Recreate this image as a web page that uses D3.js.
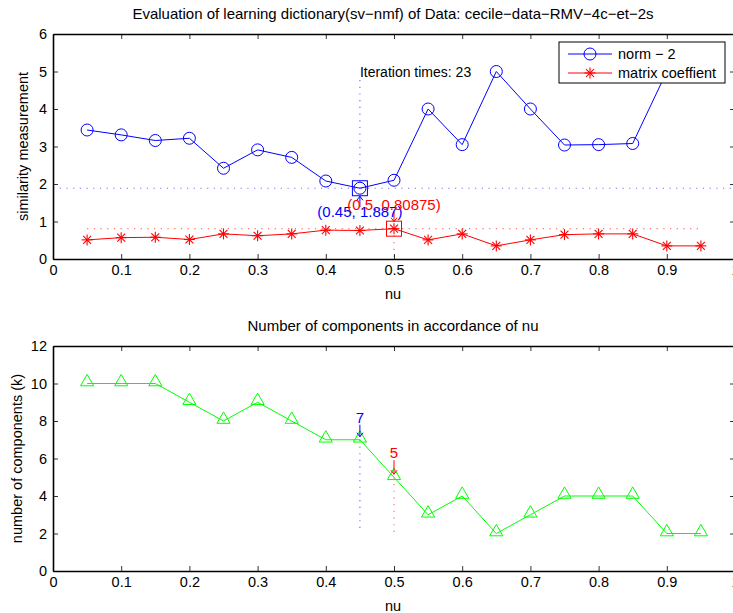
<!DOCTYPE html>
<html>
<head>
<meta charset="utf-8">
<script src="https://cdn.jsdelivr.net/npm/d3@7"></script>
<style>
  html, body { margin: 0; padding: 0; background: #fff; }
  svg { display: block; font-family: "Liberation Sans", Arial, Helvetica, sans-serif; }
</style>
</head>
<body>
<svg id="chart" width="733" height="613"></svg>
<script>
// ---------- data ----------
const nu = [0.05, 0.10, 0.15, 0.20, 0.25, 0.30, 0.35, 0.40, 0.45, 0.50,
            0.55, 0.60, 0.65, 0.70, 0.75, 0.80, 0.85, 0.90, 0.95];
const norm2 = [3.44, 3.31, 3.16, 3.22, 2.42, 2.91, 2.71, 2.08, 1.887, 2.10,
               4.00, 3.05, 5.00, 4.00, 3.04, 3.05, 3.08, 5.00, 5.00];
const matrixCoef = [0.51, 0.57, 0.58, 0.52, 0.67, 0.62, 0.67, 0.77, 0.76, 0.80875,
                    0.51, 0.67, 0.35, 0.51, 0.65, 0.67, 0.67, 0.35, 0.35];
const components = [10, 10, 10, 9, 8, 9, 8, 7, 7, 5, 3, 4, 2, 3, 4, 4, 4, 2, 2];

const xTicks = [0, 0.1, 0.2, 0.3, 0.4, 0.5, 0.6, 0.7, 0.8, 0.9, 1];
const xTickLabels = ["0", "0.1", "0.2", "0.3", "0.4", "0.5", "0.6", "0.7", "0.8", "0.9", "1"];
const yTicksTop = [0, 1, 2, 3, 4, 5, 6];
const yTicksBottom = [0, 2, 4, 6, 8, 10, 12];

const titleTop = "Evaluation of learning dictionary(sv\u2212nmf) of Data: cecile\u2212data\u2212RMV\u22124c\u2212et\u22122s";
const titleBottom = "Number of components in accordance of nu";
const legendLabels = ["norm \u2212 2", "matrix coeffient"];

const bestNorm = { x: 0.45, y: 1.887, label: "(0.45, 1.887)" };
const bestCoef = { x: 0.5, y: 0.80875, label: "(0.5, 0.80875)" };
const iterText = "Iteration times: 23";
const compNorm = { x: 0.45, k: 7 };
const compCoef = { x: 0.5, k: 5 };

// ---------- setup ----------
const svg = d3.select("#chart");
const BLUE = "#0000ff", RED = "#ff0000", GREEN = "#00ff00";
const L = 53, R = 735;

const x = d3.scaleLinear().domain([0, 1]).range([L, R]);
const yTop = d3.scaleLinear().domain([0, 6]).range([259, 34]);
const yBot = d3.scaleLinear().domain([0, 12]).range([571, 346]);

function drawAxes(g, y, yTicks, title, ylabel) {
  const [y0, y1] = y.range();
  const gb = g.append("g").attr("transform", `translate(0,${y0})`)
    .call(d3.axisBottom(x).tickValues(xTicks).tickFormat(d => xTickLabels[xTicks.indexOf(d)])
      .tickSizeInner(-5).tickSizeOuter(0).tickPadding(6));
  const gt = g.append("g").attr("transform", `translate(0,${y1})`)
    .call(d3.axisTop(x).tickValues(xTicks).tickFormat("").tickSizeInner(-5).tickSizeOuter(0));
  const gl = g.append("g").attr("transform", `translate(${L},0)`)
    .call(d3.axisLeft(y).tickValues(yTicks).tickFormat(d3.format("d"))
      .tickSizeInner(-5).tickSizeOuter(0).tickPadding(6));
  const gr = g.append("g").attr("transform", `translate(${R},0)`)
    .call(d3.axisRight(y).tickValues(yTicks).tickFormat("").tickSizeInner(-5).tickSizeOuter(0));
  [gb, gt, gl, gr].forEach(a => {
    a.select(".domain").attr("stroke", "#000").attr("stroke-width", 1.6);
    a.selectAll(".tick line").attr("stroke", "#000").attr("stroke-width", 0.8);
    a.selectAll("text").attr("fill", "#000").attr("font-size", 14.5)
      .attr("font-family", "Liberation Sans, Arial, sans-serif");
  });
  g.append("text").attr("x", (L + R) / 2 - 1).attr("y", y1 - 15)
    .attr("text-anchor", "middle").attr("font-size", 15).attr("fill", "#000").text(title);
  g.append("text").attr("x", (L + R) / 2 - 1).attr("y", y0 + 40)
    .attr("text-anchor", "middle").attr("font-size", 14.5).attr("fill", "#000").text("nu");
  g.append("text").attr("transform", `translate(${ylabel.x},${(y0 + y1) / 2}) rotate(-90)`)
    .attr("text-anchor", "middle").attr("font-size", 14.5).attr("fill", "#000").text(ylabel.text);
}

function asterisk(g, cx, cy, color, r = 5.5) {
  const p = g.append("g").attr("stroke", color).attr("stroke-width", 1.1).attr("fill", "none");
  p.append("line").attr("x1", cx - r).attr("y1", cy).attr("x2", cx + r).attr("y2", cy);
  p.append("line").attr("x1", cx).attr("y1", cy - r).attr("x2", cx).attr("y2", cy + r);
  const d = r * 0.72;
  p.append("line").attr("x1", cx - d).attr("y1", cy - d).attr("x2", cx + d).attr("y2", cy + d);
  p.append("line").attr("x1", cx - d).attr("y1", cy + d).attr("x2", cx + d).attr("y2", cy - d);
}

function arrow(g, xp, yFrom, yTo, color) {
  g.append("line").attr("x1", xp).attr("x2", xp).attr("y1", yFrom).attr("y2", yTo)
    .attr("stroke", color).attr("stroke-width", 1);
  const dir = yTo > yFrom ? 1 : -1;
  g.append("path")
    .attr("d", `M${xp - 3},${yTo - dir * 4} L${xp},${yTo} L${xp + 3},${yTo - dir * 4}`)
    .attr("stroke", color).attr("fill", "none").attr("stroke-width", 1);
}

// ---------- top plot ----------
const gTop = svg.append("g");
const dotted = (g, x1, y1, x2, y2, color) =>
  g.append("line").attr("x1", x1).attr("y1", y1).attr("x2", x2).attr("y2", y2)
    .attr("stroke", color).attr("stroke-width", 1.2).attr("stroke-dasharray", "1.2,5.5").attr("opacity", 0.55);

dotted(gTop, L, yTop(bestNorm.y), R, yTop(bestNorm.y), BLUE);
dotted(gTop, x(bestNorm.x), 80, x(bestNorm.x), yTop(bestNorm.y), BLUE);
dotted(gTop, x(nu[0]), yTop(bestCoef.y), x(nu[nu.length - 1]), yTop(bestCoef.y), RED);
dotted(gTop, x(bestCoef.x), yTop(bestCoef.y), x(bestCoef.x), yTop(0), RED);

const line = (y, data) => d3.line().x((d, i) => x(nu[i])).y(d => y(d))(data);
gTop.append("path").attr("d", line(yTop, norm2)).attr("fill", "none").attr("stroke", BLUE).attr("stroke-width", 1);
gTop.selectAll("circle.n").data(norm2).join("circle").attr("class", "n")
  .attr("cx", (d, i) => x(nu[i])).attr("cy", d => yTop(d)).attr("r", 6)
  .attr("fill", "none").attr("stroke", BLUE).attr("stroke-width", 1);
gTop.append("path").attr("d", line(yTop, matrixCoef)).attr("fill", "none").attr("stroke", RED).attr("stroke-width", 1);
matrixCoef.forEach((d, i) => asterisk(gTop, x(nu[i]), yTop(d), RED));

gTop.append("rect").attr("x", x(bestNorm.x) - 7.5).attr("y", yTop(bestNorm.y) - 7.5)
  .attr("width", 15).attr("height", 15).attr("fill", "none").attr("stroke", BLUE).attr("stroke-width", 1);
gTop.append("rect").attr("x", x(bestCoef.x) - 7.5).attr("y", yTop(bestCoef.y) - 7.5)
  .attr("width", 15).attr("height", 15).attr("fill", "none").attr("stroke", RED).attr("stroke-width", 1);

arrow(gTop, x(bestNorm.x), yTop(bestNorm.y) + 19, yTop(bestNorm.y) + 8, BLUE);
arrow(gTop, x(bestCoef.x), yTop(bestCoef.y) - 17, yTop(bestCoef.y) - 7, RED);

gTop.append("text").attr("x", x(bestNorm.x)).attr("y", 217).attr("text-anchor", "middle")
  .attr("font-size", 15).attr("fill", BLUE).text(bestNorm.label);
gTop.append("text").attr("x", x(bestCoef.x)).attr("y", 210).attr("text-anchor", "middle")
  .attr("font-size", 15).attr("fill", RED).text(bestCoef.label);
gTop.append("text").attr("x", x(bestNorm.x)).attr("y", 77)
  .attr("font-size", 14).attr("fill", "#000").text(iterText);

drawAxes(gTop, yTop, yTicksTop, titleTop, { x: 28, text: "similarity measurement" });

// legend
const lg = gTop.append("g");
lg.append("rect").attr("x", 559).attr("y", 42).attr("width", 166).attr("height", 41)
  .attr("fill", "#fff").attr("stroke", "#000").attr("stroke-width", 1);
[[BLUE, 54], [RED, 73]].forEach(([c, yy], i) => {
  lg.append("line").attr("x1", 568).attr("x2", 612).attr("y1", yy).attr("y2", yy).attr("stroke", c);
  if (i === 0) lg.append("circle").attr("cx", 590).attr("cy", yy).attr("r", 6)
    .attr("fill", "none").attr("stroke", c);
  else asterisk(lg, 590, yy, c);
  lg.append("text").attr("x", 618).attr("y", yy + 5).attr("font-size", 14.5).attr("fill", "#000")
    .text(legendLabels[i]);
});

// ---------- bottom plot ----------
const gBot = svg.append("g");
dotted(gBot, x(compNorm.x), yBot(compNorm.k), x(compNorm.x), yBot(2), BLUE);
dotted(gBot, x(compCoef.x), yBot(compCoef.k), x(compCoef.x), yBot(2), RED);

gBot.append("path").attr("d", line(yBot, components)).attr("fill", "none").attr("stroke", GREEN).attr("stroke-width", 1);
const tri = d3.symbol().type(d3.symbolTriangle).size(75);
gBot.selectAll("path.t").data(components).join("path").attr("class", "t")
  .attr("d", tri).attr("transform", (d, i) => `translate(${x(nu[i])},${yBot(d) - 1.5})`)
  .attr("fill", "none").attr("stroke", GREEN).attr("stroke-width", 1);

arrow(gBot, x(compNorm.x), yBot(compNorm.k) - 15, yBot(compNorm.k) - 3, BLUE);
arrow(gBot, x(compCoef.x), yBot(compCoef.k) - 17, yBot(compCoef.k) - 3, RED);
gBot.append("text").attr("x", x(compNorm.x)).attr("y", yBot(compNorm.k) - 17).attr("text-anchor", "middle")
  .attr("font-size", 15).attr("fill", BLUE).text(String(compNorm.k));
gBot.append("text").attr("x", x(compCoef.x)).attr("y", yBot(compCoef.k) - 19).attr("text-anchor", "middle")
  .attr("font-size", 15).attr("fill", RED).text(String(compCoef.k));

drawAxes(gBot, yBot, yTicksBottom, titleBottom, { x: 22, text: "number of components (k)" });
</script>
</body>
</html>
